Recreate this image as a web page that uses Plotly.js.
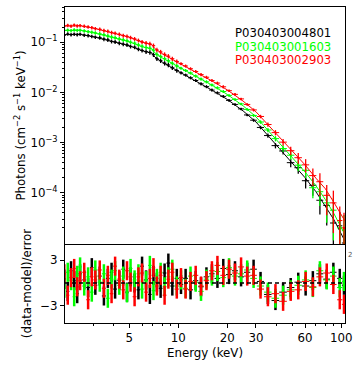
<!DOCTYPE html>
<html>
<head>
<meta charset="utf-8">
<script src="https://cdn.plot.ly/plotly-3.0.1.min.js"></script>
<style>
html, body { margin: 0; padding: 0; background: #fff; }
#chart { width: 359px; height: 367px; }
</style>
</head>
<body>
<div id="chart"></div>
<script>
// energy bins (keV), shared by the three observations
var energy = [2.0, 2.1, 2.2, 2.3, 2.4, 2.5, 2.65, 2.8, 2.95, 3.1,
              3.3, 3.5, 3.7, 3.9, 4.1, 4.35, 4.6, 4.85, 5.1, 5.4,
              5.7, 6.0, 6.35, 6.7, 7.05, 7.4, 7.8, 8.25, 8.7, 9.2,
              9.8, 10.4, 11.1, 11.9, 12.8, 13.8, 14.9, 16.1, 17.4, 18.9,
              20.5, 22.3, 24.3, 26.5, 29, 32, 35.5, 39.5, 44, 49,
              54.5, 60.5, 67, 74, 81.5, 89.5, 98, 104];

// fractional 1-sigma error of the unfolded flux
var relErr = [0.08, 0.08, 0.08, 0.08, 0.08, 0.08, 0.08, 0.08, 0.08, 0.08,
              0.09, 0.09, 0.09, 0.09, 0.09, 0.09, 0.09, 0.09, 0.09, 0.09,
              0.09, 0.09, 0.1, 0.1, 0.1, 0.1, 0.1, 0.1, 0.1, 0.1,
              0.1, 0.07, 0.07, 0.07, 0.07, 0.07, 0.07, 0.07, 0.07, 0.07,
              0.06, 0.06, 0.06, 0.06, 0.07, 0.08, 0.1, 0.12, 0.15, 0.19,
              0.24, 0.3, 0.38, 0.48, 0.6, 0.75, 0.9, 1.0];

var fluxBlack = [0.138, 0.145, 0.141, 0.144, 0.141, 0.144, 0.138, 0.135, 0.130, 0.126,
                 0.122, 0.115, 0.111, 0.1035, 0.101, 0.0955, 0.0912, 0.0881, 0.0822, 0.0794,
                 0.0724, 0.0684, 0.0646, 0.0624, 0.0562, 0.0468, 0.0427, 0.0380, 0.0351, 0.0309,
                 0.0272, 0.0245, 0.0221, 0.0195, 0.0172, 0.0148, 0.0130, 0.0111, 0.00977, 0.00832,
                 0.00692, 0.00575, 0.00468, 0.00355, 0.00279, 0.00200, 0.00138, 8.7e-4, 6.8e-4, 3.98e-4,
                 3.16e-4, 1.74e-4, 1.41e-4, 7.1e-5, 5.6e-5, 2.5e-5, 2.2e-5, 1.0e-5];

var fluxGreen = [0.172, 0.174, 0.170, 0.176, 0.172, 0.174, 0.168, 0.162, 0.158, 0.153,
                 0.146, 0.140, 0.133, 0.127, 0.123, 0.116, 0.111, 0.107, 0.100, 0.0955,
                 0.0881, 0.0832, 0.0785, 0.0759, 0.0692, 0.0569, 0.0519, 0.0468, 0.0427, 0.0380,
                 0.0335, 0.0302, 0.0272, 0.0243, 0.0211, 0.0184, 0.0162, 0.0140, 0.0123, 0.0104,
                 0.0087, 0.00724, 0.00589, 0.00457, 0.00347, 0.00257, 0.00178, 0.0012, 7.6e-4, 5.6e-4,
                 3.55e-4, 2.8e-4, 1.26e-4, 1.05e-4, 6.3e-5, 4.5e-5, 2.0e-5, 1.8e-5];

var fluxRed = [0.211, 0.216, 0.209, 0.219, 0.211, 0.214, 0.207, 0.200, 0.195, 0.186,
               0.180, 0.170, 0.164, 0.155, 0.150, 0.143, 0.135, 0.130, 0.123, 0.116,
               0.108, 0.101, 0.0955, 0.0923, 0.0851, 0.070, 0.0638, 0.0569, 0.0525, 0.0468,
               0.0412, 0.0372, 0.0335, 0.0295, 0.0260, 0.0226, 0.0200, 0.0172, 0.0153, 0.0129,
               0.0108, 0.00912, 0.00741, 0.00575, 0.00447, 0.00331, 0.00229, 0.00158, 0.00102, 6.9e-4,
               5.0e-4, 3.6e-4, 2.2e-4, 1.66e-4, 8.9e-5, 6.3e-5, 2.8e-5, 2.0e-5];

// best-fit model curves
var modelEnergy = [2, 2.5, 3, 4, 5, 6, 6.9, 7.2, 8, 10, 13, 16, 20, 25, 30, 40, 50, 60, 70, 80, 90, 105];
var modelBlack = [0.1413, 0.1429, 0.1288, 0.1023, 0.0851, 0.0676, 0.0603, 0.0501, 0.0398, 0.0263, 0.0166,
                  0.0112, 0.00724, 0.00427, 0.00257, 8.9e-4, 3.98e-4, 2.0e-4, 1.05e-4, 5.5e-5, 2.95e-5, 1.12e-5];
var modelGreen = [0.170, 0.172, 0.155, 0.123, 0.102, 0.081, 0.073, 0.061, 0.0485, 0.0325, 0.0207,
                  0.0141, 0.0091, 0.0054, 0.00325, 1.13e-3, 5.1e-4, 2.6e-4, 1.38e-4, 7.3e-5, 3.9e-5, 1.5e-5];
var modelRed = [0.209, 0.212, 0.191, 0.151, 0.126, 0.100, 0.089, 0.074, 0.059, 0.039, 0.0248,
                0.0171, 0.0112, 0.0067, 0.0041, 1.48e-3, 6.9e-4, 3.6e-4, 1.95e-4, 1.2e-4, 6.5e-5, 2.8e-5];

// residuals, (data-model)/error
var resBlack = [0.5, -1.1, 1.6, 0.3, -1.4, 1.2, 0.4, -0.6, 2.0, -0.3,
                0.9, -1.7, 0.6, 1.4, -0.8, 0.3, 1.8, -1.2, 0.8, 0.0,
                -0.9, 2.2, 0.4, -1.5, 1.0, 0.1, -0.7, 1.3, 2.6, -0.4,
                0.6, -0.2, 0.6, -0.9, 0.3, -0.5, 0.8, 1.2, 0.6, 1.9,
                1.1, 1.6, 0.8, 1.4, 1.8, 0.2, -1.5, -2.3, -1.2, -0.6,
                0.1, -0.4, 0.3, 1.2, 0.5, 1.4, 0.6, -0.3];
var resGreen = [-0.7, 1.4, 0.3, -1.8, 1.0, 2.1, -0.4, 0.8, -1.2, 1.7,
                0.1, 1.2, -2.0, 0.5, 1.6, -0.3, 0.9, -1.3, 1.9, 0.4,
                1.2, -0.8, 0.3, 2.3, -1.0, 0.6, 1.4, -0.5, 0.8, 1.8,
                -0.4, 0.4, -0.7, 0.9, 0.1, -1.1, 0.5, 0.9, 1.5, 0.7,
                2.0, 0.9, 1.2, 1.7, 0.6, -0.4, -1.2, -2.0, -1.6, -0.9,
                -0.3, 0.4, -0.6, 1.6, 0.4, 0.9, -0.6, 0.2];
var resRed = [1.2, -1.6, 0.7, 1.9, -0.5, 0.3, 1.4, -2.2, 0.8, 0.4,
              1.7, -0.7, 1.0, -1.4, 2.2, 0.5, -0.9, 1.6, 0.1, -1.8,
              0.8, 1.3, -1.2, 0.6, 2.0, -0.4, 1.0, -1.6, 0.5, 1.4,
              -0.8, 0.7, -0.8, 0.2, 1.0, -0.4, 0.3, 1.6, 2.3, 1.0,
              1.8, 1.3, 2.1, 0.9, 1.0, -0.8, -1.8, -1.4, -2.4, -1.1,
              -0.9, 0.2, -0.5, 0.8, 1.3, -0.2, -2.2, -2.8];

var obsIds = ['P030403004801', 'P030403001603', 'P030403002903'];
var colors = ['#000000', '#00ff00', '#ff0000'];
var fluxes = [fluxBlack, fluxGreen, fluxRed];
var models = [modelBlack, modelGreen, modelRed];
var resids = [resBlack, resGreen, resRed];

var xLimits = [2.02, 105.5];

// half bin widths from neighbouring bins
var halfWidth = energy.map(function (e, i) {
    var lo = i > 0 ? energy[i - 1] : e - (energy[1] - energy[0]);
    var hi = i < energy.length - 1 ? energy[i + 1] : e + (e - energy[i - 1]);
    return (hi - lo) / 4;
});

var traces = [];
for (var k = 0; k < 3; k++) {
    var f = fluxes[k];
    traces.push({
        type: 'scatter', mode: 'markers', x: energy, y: f,
        xaxis: 'x', yaxis: 'y', showlegend: false,
        marker: {color: colors[k], size: 2},
        error_y: {type: 'data', array: f.map(function (v, i) { return v * relErr[i]; }),
                  color: colors[k], thickness: 1.3, width: 0},
        error_x: {type: 'data', array: halfWidth, color: colors[k], thickness: 1, width: 0}
    });
    traces.push({
        type: 'scatter', mode: 'lines', x: modelEnergy, y: models[k],
        xaxis: 'x', yaxis: 'y', showlegend: false,
        line: {color: colors[k], width: 1}
    });
}
for (var k = 0; k < 3; k++) {
    traces.push({
        type: 'scatter', mode: 'markers', x: energy, y: resids[k],
        xaxis: 'x2', yaxis: 'y2', showlegend: false,
        marker: {color: colors[k], size: 2},
        error_y: {type: 'constant', value: 1.25, color: colors[k], thickness: 2.5, width: 0},
        error_x: {type: 'data', array: halfWidth, color: colors[k], thickness: 1, width: 0}
    });
}
// zero reference line of the residual panel
traces.push({
    type: 'scatter', mode: 'lines', x: xLimits, y: [0, 0],
    xaxis: 'x2', yaxis: 'y2', showlegend: false,
    line: {color: '#000', width: 1.5, dash: '4px,3px'}
});

var minorY = [];
for (var d = -5; d <= -1; d++) {
    for (var m = 2; m <= 9; m++) minorY.push(m * Math.pow(10, d));
}

var xRange = [Math.log10(xLimits[0]), Math.log10(xLimits[1])];
var axisFont = {family: 'DejaVu Sans', size: 11.8, color: '#000'};

var layout = {
    width: 359, height: 367,
    margin: {l: 65, r: 14, t: 7, b: 44},
    paper_bgcolor: '#fff', plot_bgcolor: '#fff',
    font: axisFont,
    showlegend: false,
    xaxis: {
        type: 'log', range: xRange, domain: [0, 1], anchor: 'y',
        showticklabels: false, ticks: '', showgrid: false, zeroline: false,
        showline: true, mirror: true, linecolor: '#000', linewidth: 1
    },
    yaxis: {
        type: 'log', range: [-5.02, -0.3], domain: [0.25, 1], anchor: 'x',
        tickvals: [1e-4, 1e-3, 1e-2, 1e-1],
        ticktext: ['10<sup>\u22124</sup>', '10<sup>\u22123</sup>', '10<sup>\u22122</sup>', '10<sup>\u22121</sup>'],
        ticks: 'outside', ticklen: 4, tickcolor: '#000',
        minor: {tickvals: minorY, ticks: 'outside', ticklen: 2, tickcolor: '#000'},
        showgrid: false, zeroline: false,
        showline: true, mirror: true, linecolor: '#000', linewidth: 1,
        tickfont: axisFont,
        title: {text: 'Photons (cm<sup>\u22122</sup> s<sup>\u22121</sup> keV<sup>\u22121</sup>)', font: axisFont}
    },
    xaxis2: {
        type: 'log', range: xRange, domain: [0, 1], anchor: 'y2',
        tickvals: [5, 10, 20, 30, 60, 100], ticktext: ['5', '10', '20', '30', '60', '100'],
        ticks: 'outside', ticklen: 4, tickcolor: '#000',
        minor: {tickvals: [2, 3, 4, 6, 7, 8, 9, 40, 50, 70, 80, 90], ticks: 'outside', ticklen: 2, tickcolor: '#000'},
        showgrid: false, zeroline: false,
        showline: true, mirror: false, linecolor: '#000', linewidth: 1,
        tickfont: axisFont,
        title: {text: 'Energy (keV)', font: axisFont, standoff: 4}
    },
    yaxis2: {
        range: [-5.24, 5.1], domain: [0, 0.25], anchor: 'x2',
        tickvals: [-3, 3], ticks: 'outside', ticklen: 4, tickcolor: '#000',
        showgrid: false, zeroline: false,
        showline: true, mirror: true, linecolor: '#000', linewidth: 1,
        tickfont: axisFont,
        title: {text: '(data-model)/error', font: axisFont}
    },
    annotations: [0, 1, 2].map(function (k) {
        return {
            text: obsIds[k], xref: 'paper', yref: 'paper',
            x: 0.957, y: [0.918, 0.875, 0.832][k],
            xanchor: 'right', yanchor: 'middle', showarrow: false,
            font: {family: 'DejaVu Sans', size: 11.7, color: colors[k]}
        };
    }).concat([{
        text: '2', xref: 'paper', yref: 'paper', x: 1.002, y: 0.215,
        xanchor: 'left', yanchor: 'middle', showarrow: false,
        font: {family: 'DejaVu Sans', size: 7, color: '#555'}
    }])
};

Plotly.newPlot('chart', traces, layout, {displayModeBar: false, staticPlot: true});
</script>
</body>
</html>
